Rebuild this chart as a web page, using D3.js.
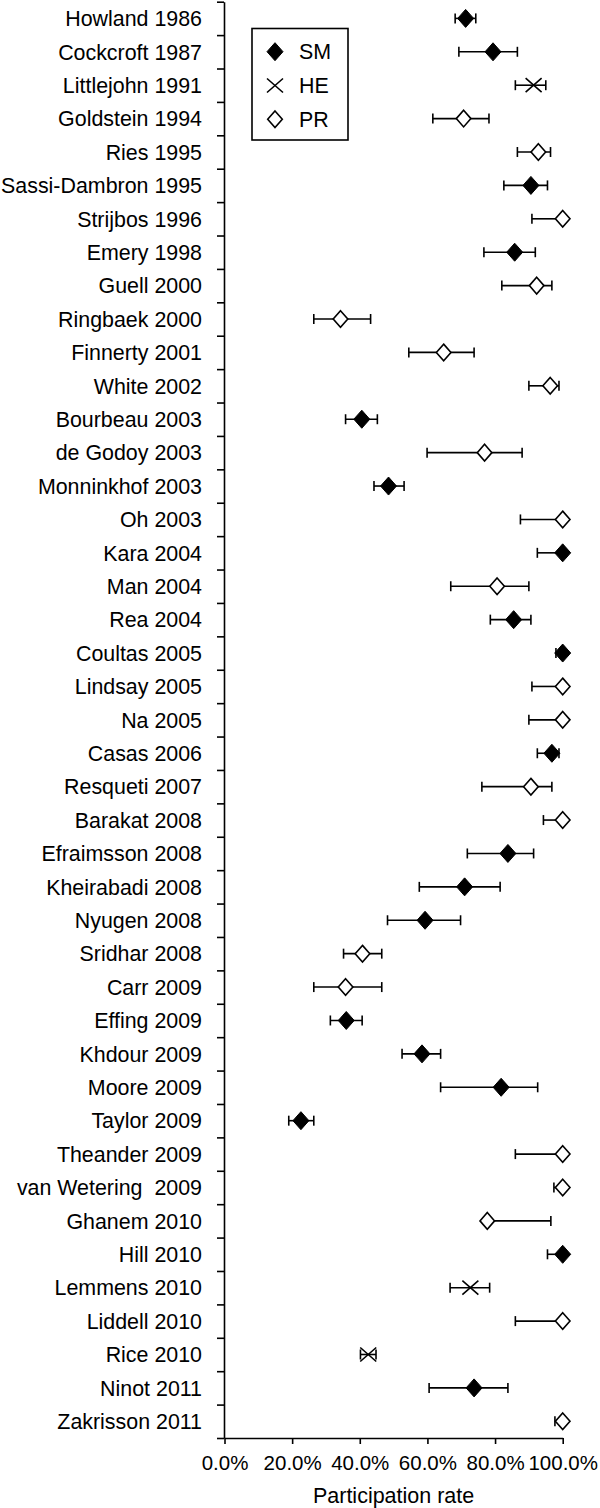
<!DOCTYPE html>
<html>
<head>
<meta charset="utf-8">
<script src="https://cdn.jsdelivr.net/npm/d3@7"></script>
<style>
  body { margin: 0; background: #fff; }
  svg { display: block; font-family: "Liberation Sans", Arial, Helvetica, sans-serif; }
</style>
</head>
<body>
<div id="chart"></div>
<script>
// studies top to bottom
const studies = [
    "Howland 1986", "Cockcroft 1987", "Littlejohn 1991", "Goldstein 1994", "Ries 1995",
    "Sassi-Dambron 1995", "Strijbos 1996", "Emery 1998", "Guell 2000", "Ringbaek 2000",
    "Finnerty 2001", "White 2002", "Bourbeau 2003", "de Godoy 2003", "Monninkhof 2003",
    "Oh 2003", "Kara 2004", "Man 2004", "Rea 2004", "Coultas 2005",
    "Lindsay 2005", "Na 2005", "Casas 2006", "Resqueti 2007", "Barakat 2008",
    "Efraimsson 2008", "Kheirabadi 2008", "Nyugen 2008", "Sridhar 2008", "Carr 2009",
    "Effing 2009", "Khdour 2009", "Moore 2009", "Taylor 2009", "Theander 2009",
    "van Wetering  2009", "Ghanem 2010", "Hill 2010", "Lemmens 2010", "Liddell 2010",
    "Rice 2010", "Ninot 2011", "Zakrisson 2011"
];
const types = [
    "SM", "SM", "HE", "PR", "PR",
    "SM", "PR", "SM", "PR", "PR",
    "PR", "PR", "SM", "PR", "SM",
    "PR", "SM", "PR", "SM", "SM",
    "PR", "PR", "SM", "PR", "PR",
    "SM", "SM", "SM", "PR", "PR",
    "SM", "SM", "SM", "SM", "PR",
    "PR", "PR", "SM", "HE", "PR",
    "HE", "SM", "PR"
];
// participation rate (%) and confidence limits
const rate = [
    71.3, 79.4, 91.4, 70.7, 92.8,
    90.6, 100, 85.8, 92.3, 34.3,
    64.8, 96.3, 40.6, 76.9, 48.5,
    100, 100, 80.6, 85.5, 100,
    100, 100, 96.8, 90.6, 100,
    83.8, 71.0, 59.3, 40.8, 35.8,
    36.0, 58.4, 81.8, 22.6, 100,
    100, 77.7, 100, 72.7, 100,
    42.5, 73.8, 100
];
const lower = [
    68.2, 69.3, 86.0, 61.6, 86.6,
    82.6, 90.9, 76.7, 82.0, 26.4,
    54.5, 90.0, 35.8, 59.9, 44.2,
    87.5, 92.5, 66.9, 78.6, 98.0,
    90.9, 90.0, 92.5, 76.1, 94.3,
    71.8, 57.6, 48.2, 35.2, 26.4,
    31.3, 52.5, 63.9, 19.0, 86.0,
    97.4, 77.7, 95.5, 66.7, 86.0,
    40.2, 60.5, 97.7
];
const upper = [
    74.3, 86.6, 95.0, 78.2, 96.4,
    95.5, 100, 91.9, 96.8, 43.2,
    73.8, 98.9, 45.2, 88.0, 53.1,
    100, 100, 90.0, 90.6, 100,
    100, 100, 98.9, 96.8, 100,
    91.4, 81.5, 69.8, 46.5, 46.5,
    40.7, 63.9, 92.6, 26.4, 100,
    100, 96.5, 100, 78.4, 100,
    44.8, 83.8, 100
];
const legendKeys = ["SM", "HE", "PR"];
const xTicks = [0, 0.2, 0.4, 0.6, 0.8, 1.0];

const width = 600, height = 1508;
const plotTop = 1.7, plotBottom = 1438;
const x0 = 224.5, x1 = 562.7;

const rows = studies.map((s, i) => ({
    name: s, type: types[i], rate: rate[i] / 100, lo: lower[i] / 100, hi: upper[i] / 100
}));

const svg = d3.select("#chart").append("svg")
    .attr("width", width)
    .attr("height", height);

const x = d3.scaleLinear().domain([0, 1]).range([x0, x1]);
const y = d3.scaleBand().domain(studies).range([plotTop, plotBottom]).padding(0);
const yEdge = d3.scaleLinear().domain([0, studies.length]).range([plotTop, plotBottom]);

// y axis: ticks between rows
const yAxis = svg.append("g")
    .attr("transform", `translate(${x0 - 0.5},0)`)
    .call(d3.axisLeft(yEdge)
        .tickValues(d3.range(studies.length + 1))
        .tickFormat("")
        .tickSize(7)
        .tickSizeOuter(0));
yAxis.selectAll("path, line").attr("stroke", "#000").attr("stroke-width", 1.6);

// study labels
svg.append("g")
    .selectAll("text")
    .data(rows)
    .join("text")
    .attr("x", 202)
    .attr("y", d => y(d.name) + y.bandwidth() / 2)
    .attr("dy", "0.36em")
    .attr("text-anchor", "end")
    .attr("font-size", 21.4)
    .attr("fill", "#000")
    .style("white-space", "pre")
    .text(d => d.name);

// x axis
const xAxis = svg.append("g")
    .attr("transform", `translate(0,${plotBottom})`)
    .call(d3.axisBottom(x)
        .tickValues(xTicks)
        .tickFormat(d3.format(".1%"))
        .tickSize(6)
        .tickSizeOuter(0));
xAxis.selectAll("path, line").attr("stroke", "#000").attr("stroke-width", 1.6);
xAxis.selectAll("text")
    .attr("font-size", 20.5)
    .attr("font-family", "Liberation Sans, Arial, sans-serif")
    .attr("fill", "#000")
    .attr("dy", null)
    .attr("y", 32);

svg.append("text")
    .attr("x", (x0 + x1) / 2)
    .attr("y", 1503)
    .attr("text-anchor", "middle")
    .attr("font-size", 21.5)
    .text("Participation rate");

// error bars
const bars = svg.append("g")
    .attr("stroke", "#000")
    .attr("stroke-width", 1.6)
    .selectAll("g")
    .data(rows)
    .join("g")
    .attr("transform", d => `translate(0,${y(d.name) + y.bandwidth() / 2})`);
bars.append("line")
    .attr("x1", d => x(d.lo)).attr("x2", d => x(d.hi));
bars.append("line")
    .attr("x1", d => x(d.lo)).attr("x2", d => x(d.lo))
    .attr("y1", -5).attr("y2", 5);
bars.append("line")
    .attr("x1", d => x(d.hi)).attr("x2", d => x(d.hi))
    .attr("y1", -5).attr("y2", 5);

// markers
function drawMarker(g, type) {
    if (type === "HE") {
        g.append("path")
            .attr("d", "M-8,-7L8,7M-8,7L8,-7")
            .attr("stroke", "#000")
            .attr("stroke-width", 1.6)
            .attr("fill", "none");
    } else {
        const s = type === "SM" ? 8 : 7.3;
        const h = type === "SM" ? 9 : 8.3;
        g.append("path")
            .attr("d", `M0,${-h}L${s},0L0,${h}L${-s},0Z`)
            .attr("fill", type === "SM" ? "#000" : "#fff")
            .attr("stroke", "#000")
            .attr("stroke-width", type === "SM" ? 1 : 1.6);
    }
}

svg.append("g")
    .selectAll("g")
    .data(rows)
    .join("g")
    .attr("transform", d => `translate(${x(d.rate)},${y(d.name) + y.bandwidth() / 2})`)
    .each(function(d) { drawMarker(d3.select(this), d.type); });

// legend
const legend = svg.append("g");
legend.append("rect")
    .attr("x", 252).attr("y", 28.5)
    .attr("width", 96).attr("height", 111.5)
    .attr("fill", "#fff")
    .attr("stroke", "#000")
    .attr("stroke-width", 1.6);
const legendY = d3.scalePoint().domain(legendKeys).range([51.7, 119.3]);
const items = legend.selectAll("g.item")
    .data(legendKeys)
    .join("g")
    .attr("class", "item")
    .attr("transform", k => `translate(275,${legendY(k)})`);
items.each(function(k) { drawMarker(d3.select(this), k); });
items.append("text")
    .attr("x", 24)
    .attr("dy", "0.36em")
    .attr("font-size", 21.4)
    .text(k => k);
</script>
</body>
</html>
